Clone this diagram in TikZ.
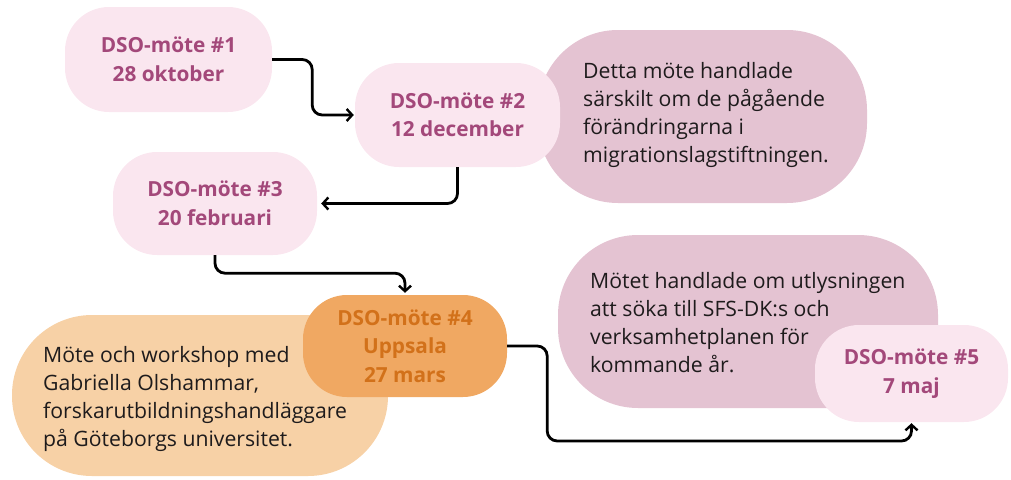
\documentclass[tikz,border=0pt]{standalone}
\usepackage{fontspec}
\setmainfont{Open Sans}
\usetikzlibrary{arrows.meta}
\definecolor{lpink}{HTML}{FAE6EF}
\definecolor{mag}{HTML}{A3487A}
\definecolor{bpink}{HTML}{E4C3D2}
\definecolor{opill}{HTML}{F0A862}
\definecolor{otext}{HTML}{D2711A}
\definecolor{borange}{HTML}{F7D1A6}
\definecolor{body}{HTML}{1E1B1C}
\tikzset{
  meet/.style={fill=lpink, text=mag, rounded corners=44pt, align=center,
    font=\fontsize{20.8}{28.5}\selectfont\bfseries, inner sep=0pt},
  meetor/.style={meet, fill=opill, text=otext},
  bubble/.style={rounded corners=80pt, inner sep=0pt},
  bodytext/.style={text=body, align=left, inner sep=0pt,
    font=\fontsize{21.2}{27.8}\selectfont},
  conn/.style={draw=black, line width=2.8pt, rounded corners=10pt,
    -{Straight Barb[length=5.5pt,width=12pt,line width=2.4pt]}}
}
\begin{document}
\begin{tikzpicture}[x=1pt,y=-1pt]
\useasboundingbox (0,0) rectangle (1011,479);
% background bubbles
\node[bubble, fill=bpink, minimum width=329pt, minimum height=173pt] (d2) at (702.5,116.5) {};
\node[bubble, fill=borange, minimum width=376pt, minimum height=161pt] (d4) at (200,395.5) {};
\node[bubble, fill=bpink, minimum width=380pt, minimum height=173pt] (d5) at (748,321.5) {};
% texts in bubbles
\node[bodytext, anchor=west] (t2) at (583,115) {Detta möte handlade\\särskilt om de pågående\\förändringarna i\\migrationslagstiftningen.};
\node[bodytext, anchor=west] (t4) at (43,399) {Möte och workshop med\\Gabriella Olshammar,\\forskarutbildningshandläggare\\på Göteborgs universitet.};
\node[bodytext, anchor=west] (t5) at (590,322.5) {Mötet handlade om utlysningen\\att söka till SFS-DK:s och\\verksamhetplanen för\\kommande år.};
% meeting pills
\node[meet, minimum width=207pt, minimum height=105pt] (p1) at (168.5,59.5) {DSO-möte \#1\\28 oktober};
\node[meet, minimum width=205pt, minimum height=104pt] (p2) at (457.5,115) {DSO-möte \#2\\12 december};
\node[meet, minimum width=204pt, minimum height=103pt] (p3) at (215,203.5) {DSO-möte \#3\\20 februari};
\node[meetor, minimum width=204pt, minimum height=102pt] (p4) at (405,346) {DSO-möte \#4\\Uppsala\\27 mars};
\node[meet, minimum width=193pt, minimum height=97pt] (p5) at (911.5,373.5) {DSO-möte \#5\\7 maj};
% connectors
\draw[conn, shorten >=1pt] (p1.east) -- ++(40,0) |- (p2.west);
\draw[conn, shorten >=4pt] (p2.south) |- (p3.east);
\draw[conn, shorten >=2pt] (p3.south) -- ++(0,18) -| (p4.north);
\draw[conn, shorten >=1pt] (p4.east) -- ++(40,0) -- ++(0,95) -| (p5.south);
\end{tikzpicture}
\end{document}
